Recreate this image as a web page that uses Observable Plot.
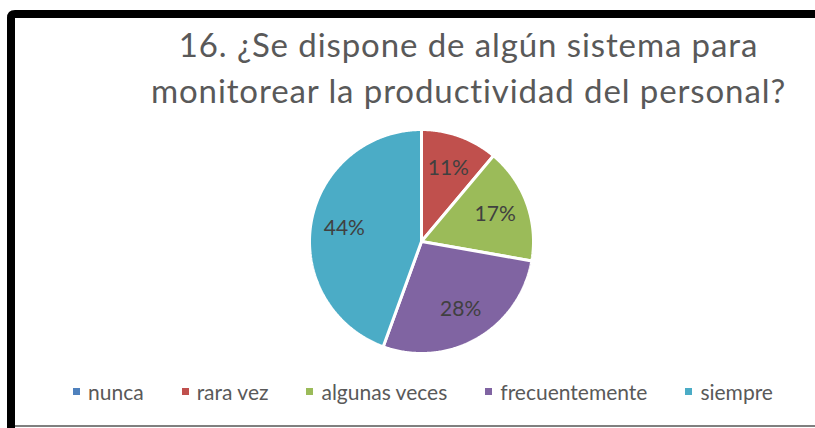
<!DOCTYPE html>
<html>
<head>
<meta charset="utf-8">
<script src="https://cdn.jsdelivr.net/npm/d3@7"></script>
<script src="https://cdn.jsdelivr.net/npm/@observablehq/plot@0.6"></script>
<style>
  html, body { margin: 0; padding: 0; background: #fff; overflow: hidden; width: 815px; height: 428px; }
  #wrap { position: relative; width: 815px; height: 428px; overflow: hidden; background: #fff; font-family: Lato, "Open Sans", sans-serif; }
  #frame { position: absolute; left: 0; top: 0; display: block; }
  #title { position: absolute; left: 122px; width: 693px; top: 21px; text-align: center; color: #595959; font-size: 33px; letter-spacing: 0.9px; line-height: 46px; white-space: nowrap; }
  #chart { position: absolute; left: 0; top: 0; width: 640px; height: 428px; }
  #legend { position: absolute; top: 379px; left: 15px; width: 800px; display: flex; justify-content: center; gap: 38px; color: #595959; font-size: 21px; padding-left: 16px; box-sizing: border-box; }
  .item { display: flex; align-items: center; gap: 8px; }
  .sw { width: 7px; height: 7px; display: inline-block; }
</style>
</head>
<body>
<div id="wrap">
  <svg id="frame" width="815" height="428" viewBox="0 0 815 428">
    <path d="M11,428 V18 Q11,14 15,14 H815" fill="none" stroke="#000" stroke-width="8"/>
    <line x1="15" y1="426" x2="815" y2="426" stroke="#7f7f7f" stroke-width="2"/>
  </svg>
  <div id="title">16. ¿Se dispone de algún sistema para<br>monitorear la productividad del personal?</div>
  <div id="chart"></div>
  <div id="legend"></div>
</div>
<script>
const categories = ["nunca", "rara vez", "algunas veces", "frecuentemente", "siempre"];
const counts = [0, 2, 3, 5, 8];
const percentLabels = ["0%", "11%", "17%", "28%", "44%"];
const colors = ["#4F81BD", "#C0504D", "#9BBB59", "#8064A2", "#4BACC6"];

const data = categories.map((c, i) => ({category: c, value: counts[i], label: percentLabels[i]}));

// angles (clockwise from 12 o'clock) via d3.pie, keeping data order
const arcs = d3.pie().sort(null).value(d => d.value)(data);

// outline of each slice as a closed polygon in unit coordinates
const outline = [];
arcs.forEach(a => {
  if (a.endAngle - a.startAngle <= 0) return;
  const name = a.data.category;
  outline.push({category: name, x: 0, y: 0});
  const n = Math.max(2, Math.ceil((a.endAngle - a.startAngle) / 0.01));
  for (let k = 0; k <= n; k++) {
    const t = a.startAngle + (a.endAngle - a.startAngle) * k / n;
    outline.push({category: name, x: Math.sin(t), y: Math.cos(t)});
  }
  outline.push({category: name, x: 0, y: 0});
});

const labelR = 0.7;
const labels = arcs.filter(a => a.data.value > 0).map(a => {
  const m = (a.startAngle + a.endAngle) / 2;
  return {label: a.data.label, x: labelR * Math.sin(m), y: labelR * Math.cos(m)};
});

const chart = Plot.plot({
  width: 640,
  height: 428,
  marginLeft: 309,
  marginRight: 107,
  marginTop: 129,
  marginBottom: 75,
  x: {domain: [-1, 1], axis: null},
  y: {domain: [-1, 1], axis: null},
  color: {domain: categories, range: colors},
  style: {background: "transparent", fontFamily: "Lato, 'Open Sans', sans-serif"},
  marks: [
    Plot.line(outline, {x: "x", y: "y", z: "category", fill: "category", stroke: "#fff", strokeWidth: 3, strokeLinejoin: "miter", curve: "linear"}),
    Plot.text(labels, {x: "x", y: "y", text: "label", fontSize: 21, fill: "#404040"})
  ]
});
document.getElementById("chart").appendChild(chart);

const legend = document.getElementById("legend");
categories.forEach((c, i) => {
  const it = document.createElement("div");
  it.className = "item";
  const sw = document.createElement("span");
  sw.className = "sw";
  sw.style.background = colors[i];
  const tx = document.createElement("span");
  tx.textContent = c;
  it.appendChild(sw);
  it.appendChild(tx);
  legend.appendChild(it);
});
</script>
</body>
</html>
